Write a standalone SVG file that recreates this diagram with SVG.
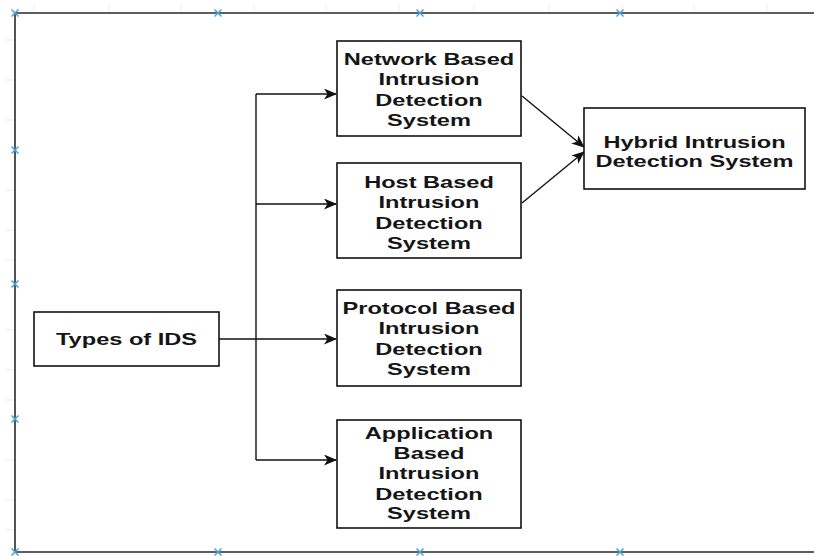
<svg xmlns="http://www.w3.org/2000/svg" width="814" height="556" viewBox="0 0 814 556">
<style>
.box{fill:#fff;stroke:#111;stroke-width:1.6}
.lbl{font-family:"Liberation Sans",Arial,sans-serif;font-weight:bold;font-size:16.5px;fill:#151515;text-anchor:middle}
.edge{fill:none;stroke:#111;stroke-width:1.4}
.frame{fill:none;stroke:#2a2a2a;stroke-width:1.6}
.tick{stroke:#ececec;stroke-width:1}
.mk{stroke:#4aa3d6;stroke-width:1.5}
</style>
<defs>
<marker id="arr" viewBox="0 0 13 11" refX="12" refY="5.5" markerWidth="13" markerHeight="11" markerUnits="userSpaceOnUse" orient="auto">
<path d="M0,0 L13,5.5 L0,11 L3.5,5.5 z" fill="#111"/>
</marker>
<g id="x"><line class="mk" x1="-3.5" y1="-3.5" x2="3.5" y2="3.5"/><line class="mk" x1="-3.5" y1="3.5" x2="3.5" y2="-3.5"/></g>
</defs>
<rect width="814" height="556" fill="#fff"/>
<g id="grid">
<path class="tick" d="M34,4V13M109,4V13M181,4V13M254,4V13M326,4V13M399,4V13M474,4V13M549,4V13M622,4V13M694,4V13M767,4V13M5,40H15M5,80H15M5,120H15M5,190H15M5,230H15M5,260H15M5,330H15M5,370H15M5,400H15M5,460H15M5,500H15M5,530H15"/>
</g>
<g id="frame">
<path class="frame" d="M814,13H15V552H814"/>
<use href="#x" x="15" y="13"/><use href="#x" x="218" y="13"/><use href="#x" x="420" y="13"/><use href="#x" x="620" y="13"/>
<use href="#x" x="15" y="150"/><use href="#x" x="15" y="284"/><use href="#x" x="15" y="419"/>
<use href="#x" x="15" y="552"/><use href="#x" x="218" y="552"/><use href="#x" x="420" y="552"/><use href="#x" x="620" y="552"/>
</g>
<g id="connectors">
<path class="edge" d="M219,339H336" marker-end="url(#arr)"/>
<path class="edge" d="M256,94V460"/>
<path class="edge" d="M256,94H336" marker-end="url(#arr)"/>
<path class="edge" d="M256,204H336" marker-end="url(#arr)"/>
<path class="edge" d="M256,460H336" marker-end="url(#arr)"/>
<path class="edge" d="M522,96L584,147" marker-end="url(#arr)"/>
<path class="edge" d="M522,203L584,152" marker-end="url(#arr)"/>
</g>
<g id="types">
<rect class="box" x="34" y="312" width="185" height="54"/>
<text class="lbl" transform="translate(126.5,345) scale(1.43,1)">Types of IDS</text>
</g>
<g id="network">
<rect class="box" x="337" y="41" width="184" height="95"/>
<text class="lbl" transform="translate(429,65) scale(1.43,1)"><tspan x="0" y="0">Network Based</tspan><tspan x="0" y="20.5">Intrusion</tspan><tspan x="0" y="41">Detection</tspan><tspan x="0" y="61.5">System</tspan></text>
</g>
<g id="host">
<rect class="box" x="337" y="163" width="184" height="95"/>
<text class="lbl" transform="translate(429,188) scale(1.43,1)"><tspan x="0" y="0">Host Based</tspan><tspan x="0" y="20.5">Intrusion</tspan><tspan x="0" y="41">Detection</tspan><tspan x="0" y="61">System</tspan></text>
</g>
<g id="protocol">
<rect class="box" x="337" y="290" width="184" height="96"/>
<text class="lbl" transform="translate(429,314) scale(1.43,1)"><tspan x="0" y="0">Protocol Based</tspan><tspan x="0" y="20.5">Intrusion</tspan><tspan x="0" y="41">Detection</tspan><tspan x="0" y="61.5">System</tspan></text>
</g>
<g id="application">
<rect class="box" x="337" y="420" width="184" height="108"/>
<text class="lbl" transform="translate(429,439) scale(1.43,1)"><tspan x="0" y="0">Application</tspan><tspan x="0" y="20">Based</tspan><tspan x="0" y="40.5">Intrusion</tspan><tspan x="0" y="61">Detection</tspan><tspan x="0" y="80.5">System</tspan></text>
</g>
<g id="hybrid">
<rect class="box" x="584" y="108" width="221" height="81"/>
<text class="lbl" transform="translate(694.5,148) scale(1.43,1)"><tspan x="0" y="0">Hybrid Intrusion</tspan><tspan x="0" y="19.5">Detection System</tspan></text>
</g>
</svg>
